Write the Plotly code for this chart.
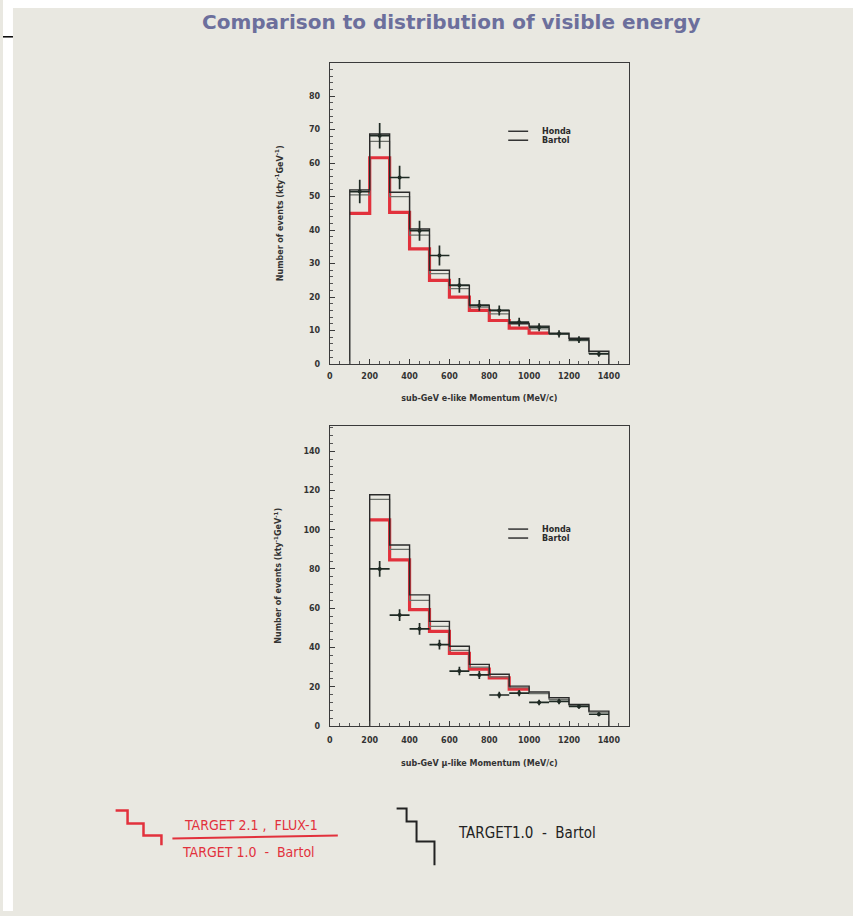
import plotly.graph_objects as go

W, H = 853, 916

# ---- data: top panel (sub-GeV e-like) ----
e_edges = [100, 200, 300, 400, 500, 600, 700, 800, 900, 1000, 1100, 1200, 1300, 1400]
e_bartol = [52, 68.7, 51.3, 40.3, 28, 23.5, 17.6, 16, 12.1, 11.3, 9.2, 7.7, 3.8]
e_honda = [50.5, 66.5, 50, 38.5, 27, 22.5, 17, 15, 12, 10.5, 9, 7, 3.2]
e_red_edges = [100, 200, 300, 400, 500, 600, 700, 800, 900, 1000, 1100]
e_red = [45, 61.6, 45.3, 34.4, 25, 20, 16, 13, 10.7, 9.2]
e_data_x = [150, 250, 350, 450, 550, 650, 750, 850, 950, 1050, 1150, 1250, 1350]
e_data_y = [51.5, 68.2, 55.7, 39.8, 32.4, 23.5, 17.5, 16, 12.5, 11, 9, 7.3, 3]
e_data_err = [3.5, 3.8, 3.5, 3, 3, 2.2, 1.6, 1.5, 1.3, 1.2, 1.1, 1, 0.8]

# ---- data: bottom panel (sub-GeV mu-like) ----
m_edges = [200, 300, 400, 500, 600, 700, 800, 900, 1000, 1100, 1200, 1300, 1400]
m_bartol = [117.8, 92.2, 66.8, 53.3, 40.6, 31.4, 26.4, 20.3, 17.3, 14.4, 11, 7.6]
m_honda = [115.5, 90, 64, 50.8, 38.5, 30, 25, 19.5, 16.5, 13.5, 10.3, 7]
m_red_edges = [200, 300, 400, 500, 600, 700, 800, 900, 1000]
m_red = [105, 84.6, 59.3, 48.2, 37, 29, 24.5, 18.8]
m_data_x = [250, 350, 450, 550, 650, 750, 850, 950, 1050, 1150, 1250, 1350]
m_data_y = [80, 56.5, 49.5, 41.5, 28, 26, 15.8, 16.8, 12, 12.5, 10, 6]
m_data_err = [4, 3, 3, 2.5, 2.2, 2, 1.6, 1.6, 1.4, 1.4, 1.2, 1]

x_ticks = [0, 200, 400, 600, 800, 1000, 1200, 1400]
e_y_ticks = [0, 10, 20, 30, 40, 50, 60, 70, 80]
m_y_ticks = [0, 20, 40, 60, 80, 100, 120, 140]

BG = "#e9e8e1"
RED = "#e2313c"


def step_xy(edges, vals, close_left=True, close_right=True):
    xs = list(edges[:-1]) + [edges[-1]]
    ys = list(vals) + [vals[-1]]
    if close_left:
        xs = [edges[0]] + xs
        ys = [0] + ys
    if close_right:
        xs = xs + [edges[-1]]
        ys = ys + [0]
    return xs, ys


fig = go.Figure()


def add_panel(xa, ya, edges, bartol, honda, red_edges, red, dx, dy, derr):
    x, y = step_xy(red_edges, red, close_left=False, close_right=False)
    fig.add_trace(go.Scatter(x=x, y=y, mode="lines", line=dict(color=RED, width=3.2, shape="hv"),
                             xaxis=xa, yaxis=ya, showlegend=False, hoverinfo="skip"))
    x, y = step_xy(edges, honda, close_left=False, close_right=False)
    fig.add_trace(go.Scatter(x=x, y=y, mode="lines", line=dict(color="#6b6f6a", width=1.2, shape="hv"),
                             xaxis=xa, yaxis=ya, showlegend=False, hoverinfo="skip"))
    x, y = step_xy(edges, bartol)
    fig.add_trace(go.Scatter(x=x, y=y, mode="lines", line=dict(color="#2a2a2a", width=1.4, shape="hv"),
                             xaxis=xa, yaxis=ya, showlegend=False, hoverinfo="skip"))
    fig.add_trace(go.Scatter(x=dx, y=dy, mode="markers",
                             marker=dict(symbol="circle", size=4, color="#1f2a24"),
                             error_y=dict(type="data", array=derr, color="#1f2a24", thickness=1.7, width=0),
                             error_x=dict(type="constant", value=50, color="#1f2a24", thickness=1.7, width=0),
                             xaxis=xa, yaxis=ya, showlegend=False, hoverinfo="skip"))


add_panel("x", "y", e_edges, e_bartol, e_honda, e_red_edges, e_red, e_data_x, e_data_y, e_data_err)
add_panel("x2", "y2", m_edges, m_bartol, m_honda, m_red_edges, m_red, m_data_x, m_data_y, m_data_err)

xd = [328 / W, 628 / W]
TF = dict(family="DejaVu Sans", size=8, color="#333333", weight="bold")
axis_common = dict(showgrid=False, zeroline=False, showline=True, linecolor="#3a3a3a", linewidth=1.3,
                   mirror=True, ticks="inside", ticklen=5, tickcolor="#3a3a3a", tickfont=TF)

fig.update_layout(
    width=W, height=H, margin=dict(l=0, r=0, t=0, b=0),
    paper_bgcolor=BG, plot_bgcolor=BG,
    xaxis=dict(domain=xd, anchor="y", range=[0, 1500], tickvals=x_ticks, ticklabelstandoff=4,
               minor=dict(ticks="inside", ticklen=3, tickcolor="#555555", dtick=50), **axis_common,
               title=dict(text="sub-GeV e-like Momentum (MeV/c)", standoff=15, font=TF)),
    yaxis=dict(domain=[(H - 366) / H, (H - 63) / H], anchor="x", range=[0, 90], tickvals=e_y_ticks,
               ticklabelstandoff=7,
               minor=dict(ticks="inside", ticklen=3, tickcolor="#555555", dtick=2), **axis_common,
               title=dict(text="Number of events (kty<sup>-1</sup>GeV<sup>-1</sup>)", standoff=24, font=TF)),
    xaxis2=dict(domain=xd, anchor="y2", range=[0, 1500], tickvals=x_ticks, ticklabelstandoff=6,
                minor=dict(ticks="inside", ticklen=3, tickcolor="#555555", dtick=50), **axis_common,
                title=dict(text="sub-GeV \u03bc-like Momentum (MeV/c)", standoff=16, font=TF)),
    yaxis2=dict(domain=[(H - 730) / H, (H - 428) / H], anchor="x2", range=[0, 153], tickvals=m_y_ticks,
                ticklabelstandoff=7,
                minor=dict(ticks="inside", ticklen=3, tickcolor="#555555", dtick=4), **axis_common,
                title=dict(text="Number of events (kty<sup>-1</sup>GeV<sup>-1</sup>)", standoff=20, font=TF)),
)

shapes = []
annotations = []


def px(x):
    return x / W


def py(y):
    return 1 - y / H


def to_paper_path(spec):
    toks = spec.split()
    out = []
    for i, t in enumerate(toks):
        if i % 3 == 1:
            out.append(f"{px(float(t)):.5f}")
        elif i % 3 == 2:
            out.append(f"{py(float(t)):.5f}")
        else:
            out.append(t)
    return " ".join(out)


# white frame strips (top and left of the slide photo)
shapes.append(dict(type="rect", xref="paper", yref="paper", x0=0, x1=1, y0=py(8), y1=1,
                   fillcolor="white", line=dict(width=0), layer="above"))
shapes.append(dict(type="rect", xref="paper", yref="paper", x0=0, x1=px(10), y0=0, y1=1,
                   fillcolor="white", line=dict(width=0), layer="above"))
shapes.append(dict(type="line", xref="paper", yref="paper", x0=0, x1=px(10), y0=py(37), y1=py(37),
                   line=dict(color="black", width=1.5)))

# title
annotations.append(dict(text="Comparison to distribution of visible energy", xref="paper", yref="paper",
                        x=px(450), y=py(22), xanchor="center", yanchor="middle", showarrow=False,
                        font=dict(family="DejaVu Sans", size=20, color="#6c6f9c", weight="bold")))

# in-plot legends
for ly in (132, 532):
    for i, nm in enumerate(["Honda", "Bartol"]):
        yy = ly + i * 9
        shapes.append(dict(type="line", xref="paper", yref="paper", x0=px(507), x1=px(527),
                           y0=py(yy), y1=py(yy), line=dict(color="#333", width=1.5)))
        annotations.append(dict(text=nm, xref="paper", yref="paper", x=px(539), y=py(yy),
                                xanchor="left", yanchor="middle", showarrow=False,
                                font=dict(family="DejaVu Sans", size=8, color="#2a2a2a", weight="bold")))

# handwritten-style notes
shapes.append(dict(type="path", xref="paper", yref="paper",
                   path=to_paper_path("M 113 815 L 125 815 L 125 828 L 141 828 L 141 840 L 159 840 L 159 850"),
                   line=dict(color=RED, width=2.5)))
shapes.append(dict(type="path", xref="paper", yref="paper",
                   path=to_paper_path("M 395 813 L 405 813 L 405 826 L 415 826 L 415 846 L 433 846 L 433 870"),
                   line=dict(color="#222", width=2)))
shapes.append(dict(type="line", xref="paper", yref="paper", x0=px(170), x1=px(336), y0=py(843), y1=py(840),
                   line=dict(color=RED, width=2)))
HF = "DejaVu Sans Condensed, DejaVu Sans"
annotations.append(dict(text="TARGET 2.1 ,  FLUX-1", xref="paper", yref="paper", x=px(180), y=py(830),
                        xanchor="left", yanchor="middle", showarrow=False,
                        font=dict(family=HF, size=14, color=RED)))
annotations.append(dict(text="TARGET 1.0  -  Bartol", xref="paper", yref="paper", x=px(178), y=py(857),
                        xanchor="left", yanchor="middle", showarrow=False,
                        font=dict(family=HF, size=14, color=RED)))
annotations.append(dict(text="TARGET1.0  -  Bartol", xref="paper", yref="paper", x=px(455), y=py(838),
                        xanchor="left", yanchor="middle", showarrow=False,
                        font=dict(family=HF, size=15, color="#222")))

fig.update_layout(shapes=shapes, annotations=annotations)

fig.write_html("out.html")
